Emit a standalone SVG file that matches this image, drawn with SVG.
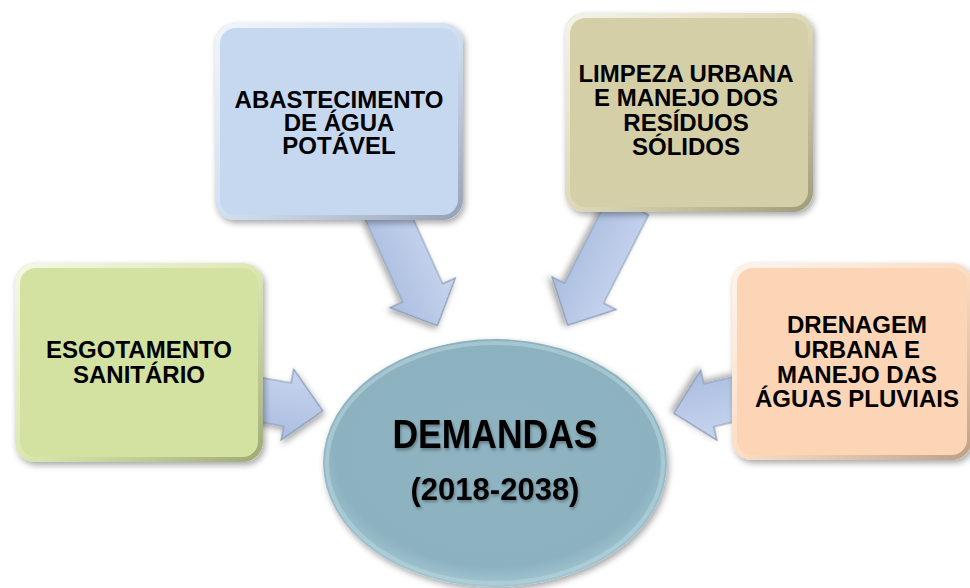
<svg xmlns="http://www.w3.org/2000/svg" width="970" height="588" viewBox="0 0 970 588">
<defs>
<filter id="sh" x="-20%" y="-20%" width="140%" height="140%">
<feDropShadow dx="2" dy="3" stdDeviation="3" flood-color="#000" flood-opacity="0.35"/>
</filter>
<filter id="tsh" x="-10%" y="-10%" width="120%" height="130%">
<feDropShadow dx="1" dy="2" stdDeviation="1.5" flood-color="#000" flood-opacity="0.3"/>
</filter>
<linearGradient id="bevel" x1="0" y1="0" x2="1" y2="1">
<stop offset="0" stop-color="#fff" stop-opacity="0.75"/>
<stop offset="0.5" stop-color="#fff" stop-opacity="0.2"/>
<stop offset="1" stop-color="#000" stop-opacity="0.25"/>
</linearGradient>
<linearGradient id="arr" x1="0" y1="0" x2="0" y2="1">
<stop offset="0" stop-color="#c7d5ee"/>
<stop offset="1" stop-color="#aabde0"/>
</linearGradient>
<radialGradient id="ell" cx="0.5" cy="0.45" r="0.55">
<stop offset="0" stop-color="#8fb3c1"/>
<stop offset="0.85" stop-color="#8cb2c0"/>
<stop offset="1" stop-color="#a3c7d2"/>
</radialGradient>
</defs>
<style>
.arrow{fill:url(#arr);stroke:#8a9ab3;stroke-width:1.2;filter:url(#sh)}
.box{stroke-width:6;filter:url(#sh)}
.edge{fill:none;stroke:url(#bevel);stroke-width:5}
.t{font-family:"Liberation Sans",Arial,sans-serif;font-weight:bold;font-size:24px;fill:#000;text-anchor:middle}
</style>
<rect width="970" height="588" fill="#fff"/>
<g id="connectors">
<path class="arrow" transform="translate(385,210) rotate(65.6)" d="M0,-22 H91 V-36 L127,0 L91,36 V22 H0 Z"/>
<path class="arrow" transform="translate(629,205) rotate(117)" d="M0,-22 H99 V-36 L135,0 L99,36 V22 H0 Z"/>
<path class="arrow" transform="translate(250,398) rotate(10)" d="M0,-22 H38 V-36 L74,0 L38,36 V22 H0 Z"/>
<path class="arrow" transform="translate(740,398) rotate(167)" d="M0,-22 H32 V-36 L68,0 L32,36 V22 H0 Z"/>
</g>
<g id="abastecimento">
<rect x="215" y="23" width="248" height="197" rx="20" fill="#c6d8ef" filter="url(#sh)"/>
<rect class="edge" x="217.5" y="25.5" width="243" height="192" rx="18"/>
<text class="t" x="339" y="108">ABASTECIMENTO</text>
<text class="t" x="339" y="131">DE ÁGUA</text>
<text class="t" x="339" y="154">POTÁVEL</text>
</g>
<g id="limpeza">
<rect x="565" y="13" width="248" height="199" rx="20" fill="#d5cfa7" filter="url(#sh)"/>
<rect class="edge" x="567.5" y="15.5" width="243" height="194" rx="18"/>
<text class="t" x="686" y="82">LIMPEZA URBANA</text>
<text class="t" x="686" y="106">E MANEJO DOS</text>
<text class="t" x="686" y="131">RESÍDUOS</text>
<text class="t" x="686" y="155">SÓLIDOS</text>
</g>
<g id="esgotamento">
<rect x="15" y="263" width="248" height="199" rx="20" fill="#d3e2a0" filter="url(#sh)"/>
<rect class="edge" x="17.5" y="265.5" width="243" height="194" rx="18"/>
<text class="t" x="139" y="358">ESGOTAMENTO</text>
<text class="t" x="139" y="383">SANITÁRIO</text>
</g>
<g id="drenagem">
<rect x="732" y="263" width="240" height="197" rx="20" fill="#fbd5b5" filter="url(#sh)"/>
<rect class="edge" x="734.5" y="265.5" width="235" height="192" rx="18"/>
<text class="t" x="857" y="333">DRENAGEM</text>
<text class="t" x="857" y="358">URBANA E</text>
<text class="t" x="857" y="383">MANEJO DAS</text>
<text class="t" x="857" y="407">ÁGUAS PLUVIAIS</text>
</g>
<g id="demandas">
<ellipse cx="495" cy="463" rx="172" ry="124" fill="url(#ell)" filter="url(#sh)"/>
<ellipse cx="495" cy="463" rx="168" ry="120" fill="none" stroke="#b5d3dc" stroke-width="4" stroke-opacity="0.6"/>
<text class="t" transform="translate(495,448) scale(1,1.15)" style="font-size:35.5px" filter="url(#tsh)">DEMANDAS</text>
<text class="t" x="495" y="500" style="font-size:31px" filter="url(#tsh)">(2018-2038)</text>
</g>
</svg>
